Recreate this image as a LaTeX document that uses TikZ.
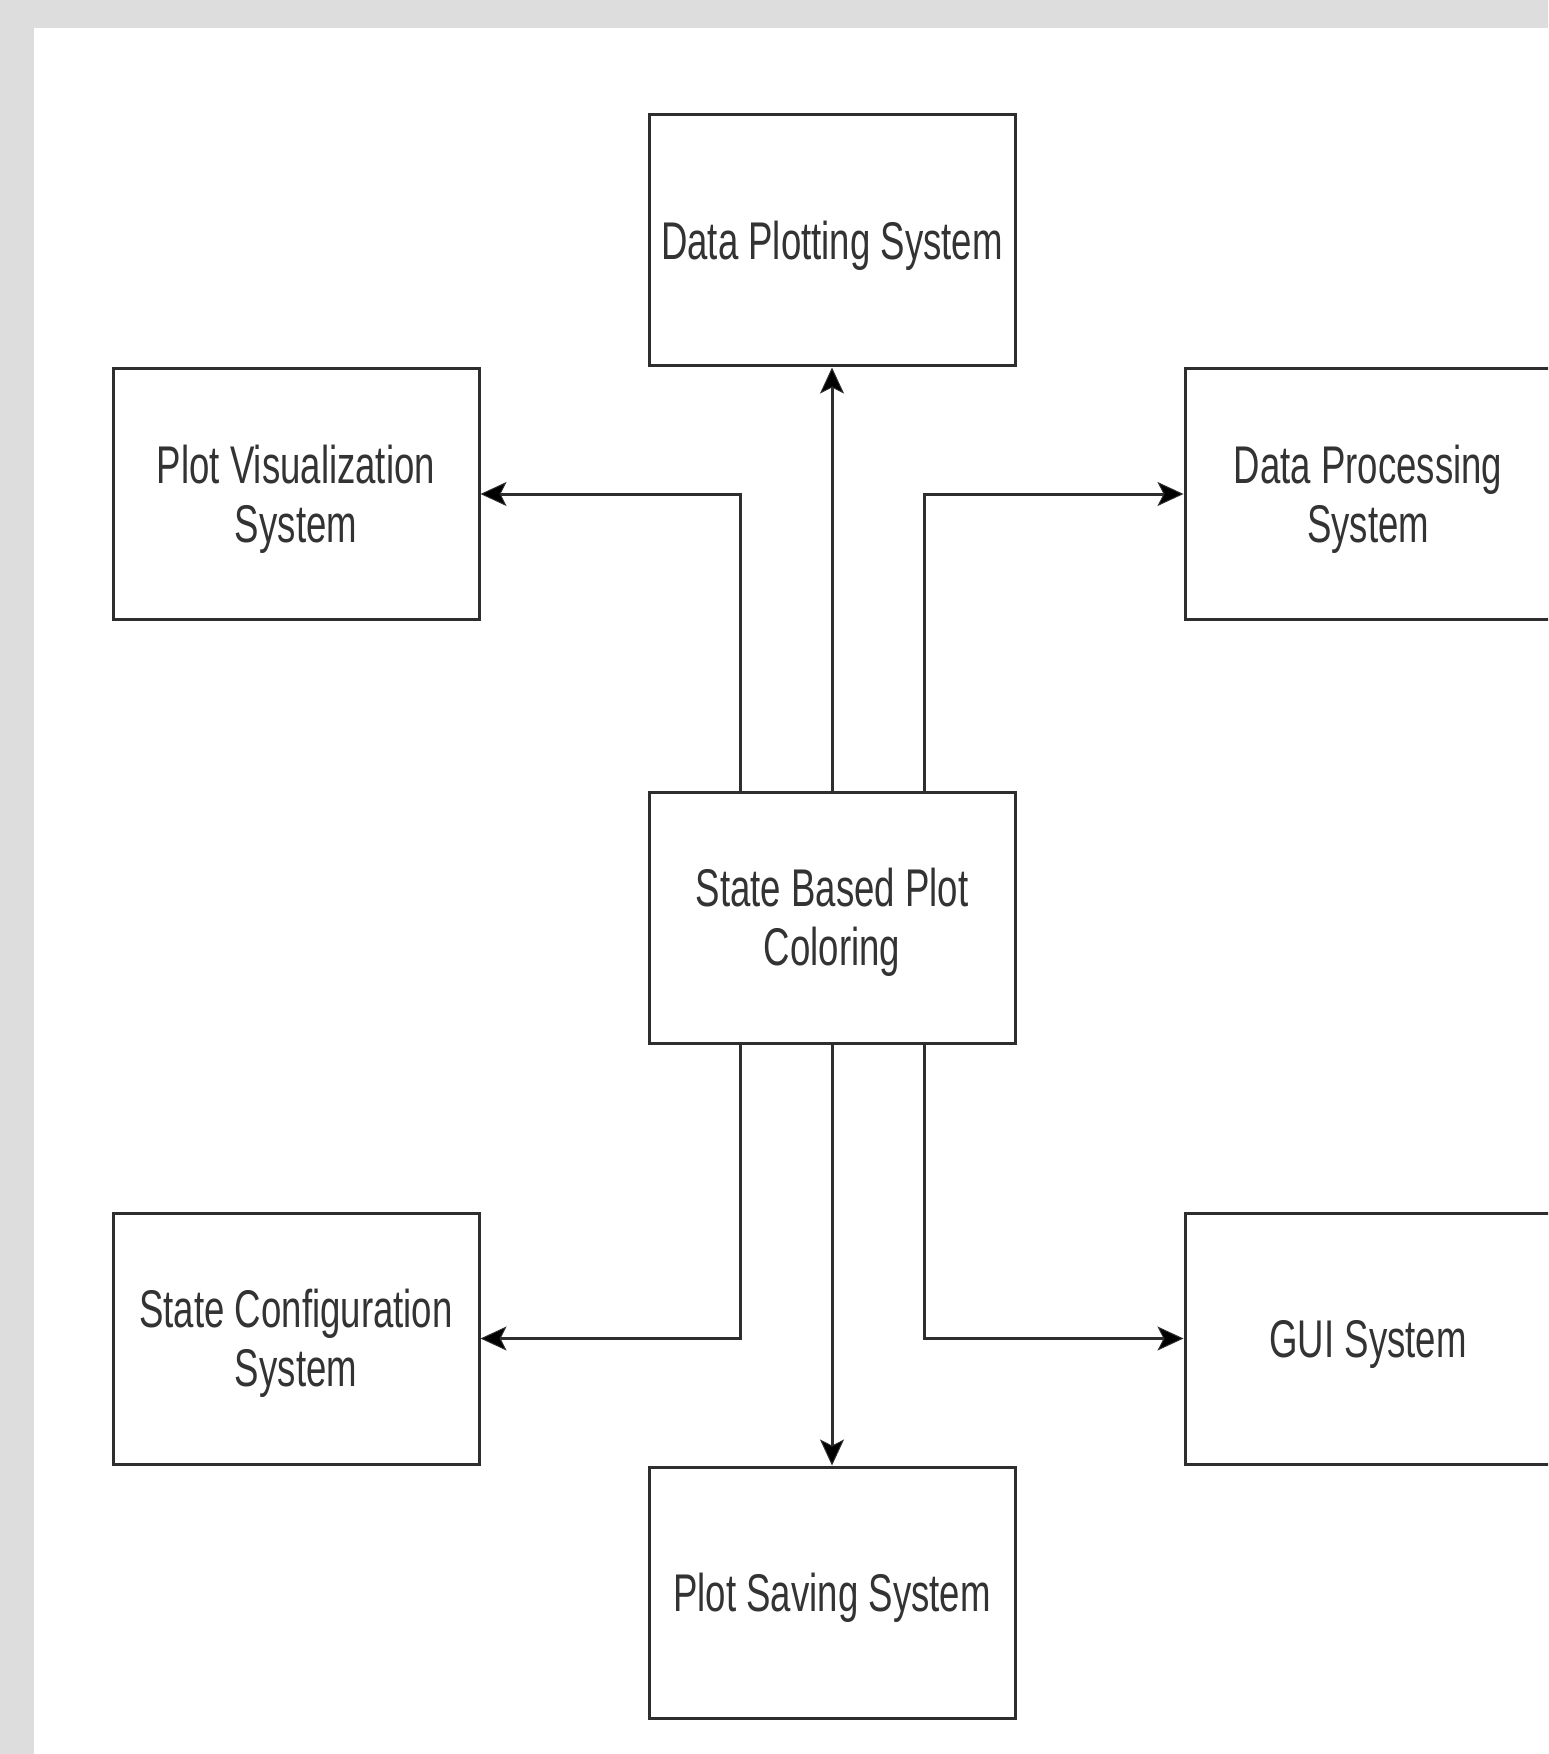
\documentclass[tikz,border=0pt]{standalone}
\usepackage{fontspec}
\setmainfont{Liberation Sans}
\usetikzlibrary{arrows.meta}
\definecolor{bggray}{HTML}{DCDDDC}
\definecolor{linecol}{HTML}{2E2E2E}
\definecolor{textcol}{HTML}{333333}
\newcommand{\boxlabel}[1]{\raisebox{-3.5pt}[\height][\depth]{\scalebox{1}[1.45]{\begin{tabular}{@{}c@{}}#1\end{tabular}}}}
\tikzset{
  sysbox/.style={draw=linecol, line width=1.5pt, fill=white, minimum width=183pt, minimum height=125.5pt, inner sep=0pt, text=textcol, font=\fontsize{18.3}{20.3}\selectfont},
  conn/.style={draw=linecol, line width=1.5pt, -{Stealth[length=13pt,width=12pt,inset=3pt,fill=black,line width=0.5pt]}}
}
\begin{document}
\begin{tikzpicture}[x=0.5pt, y=-0.5pt]
\useasboundingbox (0,0) rectangle (1548,1754);
\clip (0,0) rectangle (1548,1754);
\fill[bggray] (0,0) rectangle (1548,1754);
\fill[white] (34,28) rectangle (1548,1754);

\node[sysbox] (dplot) at (832,240.5) {\boxlabel{Data Plotting System}};
\node[sysbox] (pvis) at (296,494) {\boxlabel{Plot Visualization\\System}};
\node[sysbox] (dproc) at (1368,494) {\boxlabel{Data Processing\\System}};
\node[sysbox] (core) at (832,917.5) {\boxlabel{State Based Plot\\Coloring}};
\node[sysbox] (sconf) at (296,1338.5) {\boxlabel{State Configuration\\System}};
\node[sysbox] (gui) at (1368,1338.5) {\boxlabel{GUI System}};
\node[sysbox] (psave) at (832,1592.5) {\boxlabel{Plot Saving System}};

\draw[conn] (core.north) -- (dplot.south);
\draw[conn] ([xshift=-46pt]core.north) |- (pvis.east);
\draw[conn] ([xshift=46pt]core.north) |- (dproc.west);
\draw[conn] ([xshift=-46pt]core.south) |- (sconf.east);
\draw[conn] ([xshift=46pt]core.south) |- (gui.west);
\draw[conn] (core.south) -- (psave.north);
\end{tikzpicture}
\end{document}
